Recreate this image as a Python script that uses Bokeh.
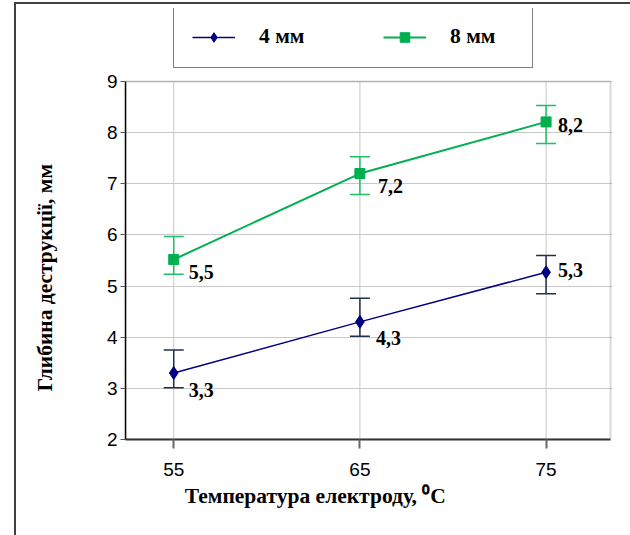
import math
from bokeh.plotting import figure
from bokeh.models import (ColumnDataSource, Range1d, FixedTicker, Legend, LegendItem,
                          Whisker, TeeHead, LinearAxis, BoxAnnotation)
from bokeh.core.properties import value
from bokeh.embed import file_html
from bokeh.resources import INLINE

# ---- data ----
temps = [55, 65, 75]
x_ticks = [55, 65, 75]
y_ticks = [2, 3, 4, 5, 6, 7, 8, 9]

depth_4mm = [3.3, 4.3, 5.27]
low_4mm = [3.01, 4.02, 4.85]
high_4mm = [3.75, 4.76, 5.6]

depth_8mm = [5.52, 7.2, 8.21]
low_8mm = [5.23, 6.79, 7.79]
high_8mm = [5.97, 7.53, 8.53]

series_names = ["4 мм", "8 мм"]
x_title = "Температура електроду, ⁰C"
y_title = "Глибина деструкції, мм"

# label offsets (px) - style only
dx_4 = [15, 16, 12]
dy_4 = [17, 16, -2]
dx_8 = [15, 18, 12]
dy_8 = [13, 12, 3]

NAVY = "#000080"
NAVY_ERR = "#22304a"
GREEN = "#00b050"
GREEN_ERR = "#1fbf68"
SERIF = "Liberation Serif"
SANS = "Liberation Sans"
NBSP = "\u00a0"
TITLE_PAD = 20   # non-breaking spaces that shift the centred titles off-centre

# axis extents of the plotting area
XA, XB = 52.41, 78.46
YA, YB = 2, 9
XS = (XB - XA) / 485.0          # data units per px
YS = (YB - YA) / 358.0
X_END = XB + 2 * XS             # frame reaches 2px past the plot border
Y_END = YB + 73 * YS            # frame reaches up to hold the legend


def fmt(v):
    return f"{v:.1f}".replace(".", ",")


src4 = ColumnDataSource(dict(x=temps, y=depth_4mm, lo=low_4mm, hi=high_4mm,
                             lab=[fmt(v) for v in depth_4mm], dx=dx_4, dy=dy_4))
src8 = ColumnDataSource(dict(x=temps, y=depth_8mm, lo=low_8mm, hi=high_8mm,
                             lab=[fmt(v) for v in depth_8mm], dx=dx_8, dy=dy_8))

frame_css = {
    "background-image": "linear-gradient(#404040, #404040), linear-gradient(#404040, #404040)",
    "background-size": "2px 100%, 100% 2px",
    "background-position": "14px 2px, 14px 2px",
    "background-repeat": "no-repeat",
}

p = figure(width=630, height=535,
           x_range=Range1d(XA, X_END), y_range=Range1d(YA, Y_END),
           output_backend="svg", toolbar_location=None,
           min_border_left=125, min_border_right=18,
           min_border_top=8, min_border_bottom=96,
           styles=frame_css)

p.background_fill_color = "white"
p.border_fill_alpha = 0
p.outline_line_color = None

# main axes
p.xaxis.ticker = FixedTicker(ticks=x_ticks)
p.yaxis.ticker = FixedTicker(ticks=y_ticks)
p.xaxis.bounds = (XA, XB)
p.yaxis.bounds = (YA, YB)
for ax in (p.xaxis, p.yaxis):
    ax.minor_tick_line_color = None
    ax.major_tick_in = 0
    ax.major_label_text_font = SANS
    ax.major_label_text_color = "black"
    ax.major_label_text_font_size = "19px"
p.xaxis.axis_line_color = "#333333"
p.xaxis.axis_line_width = 2
p.xaxis.major_tick_line_color = "#666666"
p.xaxis.major_tick_line_width = 2
p.xaxis.major_tick_out = 9
p.xaxis.major_label_standoff = 14

p.yaxis.axis_line_color = "black"
p.yaxis.axis_line_width = 1.5
p.yaxis.major_tick_line_color = "#555555"
p.yaxis.major_tick_line_width = 1
p.yaxis.major_tick_out = 5
p.yaxis.major_label_standoff = 3

# title axes (only carry the axis titles)
x_title_axis = LinearAxis(ticker=FixedTicker(ticks=[]),
                          axis_label=x_title + NBSP * TITLE_PAD, axis_label_standoff=5,
                          axis_line_color=None, major_tick_line_color=None,
                          minor_tick_line_color=None, major_label_standoff=0)
y_title_axis = LinearAxis(ticker=FixedTicker(ticks=[]),
                          axis_label=y_title + NBSP * TITLE_PAD, axis_label_standoff=47,
                          axis_line_color=None, major_tick_line_color=None,
                          minor_tick_line_color=None, major_label_standoff=0)
for ax in (x_title_axis, y_title_axis):
    ax.axis_label_text_font = SERIF
    ax.axis_label_text_font_style = "bold"
    ax.axis_label_text_font_size = "21.5px"
    ax.axis_label_text_color = "black"
p.add_layout(x_title_axis, "below")
p.add_layout(y_title_axis, "left")

# grid
p.xgrid.visible = False
p.ygrid.grid_line_color = "#c8c8c8"
p.segment(x0=x_ticks, y0=[YA] * len(x_ticks), x1=x_ticks, y1=[YB] * len(x_ticks),
          line_color="#c8c8c8", line_width=1, level="underlay")

# plot-area border (top / right visible)
p.add_layout(BoxAnnotation(left=XA, right=XB, bottom=YA, top=YB, level="underlay",
                           fill_alpha=0, line_color="#808080", line_width=2))

# error bars
for src, col in ((src4, NAVY_ERR), (src8, GREEN_ERR)):
    w = Whisker(source=src, base="x", lower="lo", upper="hi",
                line_color=col, line_width=1.5,
                upper_head=TeeHead(size=20, line_color=col, line_width=1.5),
                lower_head=TeeHead(size=20, line_color=col, line_width=1.5))
    w.level = "underlay"
    p.add_layout(w)

# series
l4 = p.line("x", "y", source=src4, line_color=NAVY, line_width=1.5)
m4 = p.scatter("x", "y", source=src4, marker="diamond", size=13,
               fill_color=NAVY, line_color=NAVY)
l8 = p.line("x", "y", source=src8, line_color=GREEN, line_width=2)
m8 = p.scatter("x", "y", source=src8, marker="square", size=10,
               fill_color=GREEN, line_color=GREEN)

for src in (src4, src8):
    p.text("x", "y", text="lab", source=src, x_offset="dx", y_offset="dy",
           text_font=value(SERIF), text_font_style="bold", text_font_size="20px",
           text_align="left", text_baseline="middle", text_color="black")

# legend (bottom-left corner, px from frame bottom-left)
legend = Legend(items=[LegendItem(label=series_names[0], renderers=[l4, m4]),
                       LegendItem(label=series_names[1], renderers=[l8, m8])],
                orientation="horizontal", location=(48, 371),
                padding=18, spacing=60, label_width=64, label_height=24,
                glyph_width=43, glyph_height=24, label_standoff=24,
                label_text_font=SERIF, label_text_font_style="bold",
                label_text_font_size="21.5px", label_text_color="black",
                border_line_color="black", border_line_width=1,
                background_fill_color="white", background_fill_alpha=1,
                margin=0)
p.add_layout(legend)

open("out.html", "w").write(file_html(p, INLINE))
